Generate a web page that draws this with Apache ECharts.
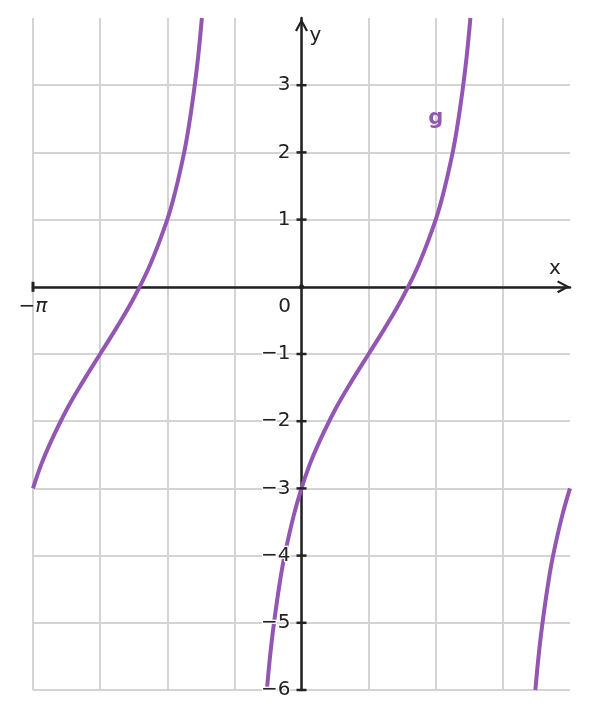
<!DOCTYPE html>
<html>
<head>
<meta charset="utf-8">
<script src="https://cdn.jsdelivr.net/npm/echarts@6/dist/echarts.min.js"></script>
<style>
  html, body { margin: 0; padding: 0; background: #fff; }
  #chart { width: 589px; height: 719px; }
</style>
</head>
<body>
<div id="chart"></div>
<script>
// x values are in units of pi
const leftX  = [-1, -0.97, -0.9375, -0.875, -0.8125, -0.75, -0.6875, -0.625, -0.5625, -0.5, -0.47, -0.4375, -0.42, -0.4, -0.385, -0.371];
const leftY  = [-3, -2.65, -2.34, -1.83, -1.40, -1, -0.60, -0.17, 0.34, 1, 1.42, 1.99, 2.38, 2.93, 3.42, 4.0];
const midX   = [-0.129, -0.115, -0.1, -0.08, -0.0625, -0.03, 0, 0.03, 0.0625, 0.125, 0.1875, 0.25, 0.3125, 0.375, 0.4375, 0.5, 0.53, 0.5625, 0.58, 0.6, 0.615, 0.629];
const midY   = [-6.0, -5.42, -4.93, -4.38, -3.99, -3.42, -3, -2.65, -2.34, -1.83, -1.40, -1, -0.60, -0.17, 0.34, 1, 1.42, 1.99, 2.38, 2.93, 3.42, 4.0];
const rightX = [0.871, 0.885, 0.9, 0.92, 0.9375, 0.97, 1];
const rightY = [-6, -5.42, -4.93, -4.38, -3.99, -3.42, -3];

const yTicks = [-6, -5, -4, -3, -2, -1, 1, 2, 3];
const curveName = 'g';
const curveLabelAt = [0.5, 2.5];

const ink = '#222222';
const purple = '#9356b3';
const font = 'DejaVu Sans';
const chevron = 'path://M0,12L6.5,0L13,12L11,13.2L6.5,4.6L2,13.2Z';

const W = 589, H = 719;
const gridBox = { left: 33, right: 19, top: 18, bottom: 29 };
const xMin = -1, xMax = 1, yMin = -6, yMax = 4;
const plotW = W - gridBox.left - gridBox.right;
const plotH = H - gridBox.top - gridBox.bottom;
// shift the axes so they cross at (0, 0), labels included
const yAxisShift = -plotW * (0 - xMin) / (xMax - xMin);
const xAxisShift = -plotH * (0 - yMin) / (yMax - yMin);

const pairs = (xs, ys) => xs.map((x, i) => [x, ys[i]]);

const curve = (data) => ({
  type: 'line',
  data: data,
  showSymbol: false,
  smooth: 0.4,
  lineStyle: { color: purple, width: 4 },
  silent: true,
  z: 3
});

const mark = (data, symbol, size) => ({
  type: 'scatter',
  data: data,
  symbol: symbol,
  symbolSize: size,
  itemStyle: { color: ink, opacity: 1 },
  silent: true,
  z: 4
});

// y tick marks carry their own labels so they sit above the curve
const yTickSeries = mark(yTicks.map(v => [0, v]), 'rect', [10, 2.5]);
yTickSeries.z = 5;
yTickSeries.label = {
  show: true,
  position: 'left',
  distance: 6,
  fontFamily: font,
  fontSize: 20,
  color: ink,
  textBorderColor: '#fff',
  textBorderWidth: 2.5,
  formatter: p => String(p.value[1]).replace('-', '−')
};

const chart = echarts.init(document.getElementById('chart'));
chart.setOption({
  animation: false,
  backgroundColor: '#fff',
  grid: Object.assign({ containLabel: false, outerBoundsMode: 'none' }, gridBox),
  xAxis: {
    type: 'value',
    min: xMin,
    max: xMax,
    interval: 0.25,
    position: 'bottom',
    offset: xAxisShift,
    name: 'x',
    nameLocation: 'end',
    nameGap: -21,
    nameTextStyle: { fontFamily: font, fontSize: 20, color: ink, verticalAlign: 'bottom', padding: [0, 0, 8, 0] },
    axisLine: {
      onZero: false,
      lineStyle: { color: ink, width: 2.5 },
      symbol: ['none', chevron],
      symbolSize: [13, 13],
      symbolOffset: [0, -6.5]
    },
    axisTick: { show: false },
    splitLine: { show: true, showMaxLine: false, lineStyle: { color: '#d4d4d4', width: 2 } },
    axisLabel: {
      showMinLabel: true,
      margin: 10,
      fontFamily: font,
      fontSize: 20,
      color: ink,
      formatter: function (v) {
        if (Math.abs(v + 1) < 1e-9) return '{m|−}{p|π}';
        if (Math.abs(v) < 1e-9) return '{z|0}';
        return '';
      },
      rich: {
        m: { fontFamily: font, fontSize: 20, color: ink },
        p: { fontFamily: font, fontSize: 20, color: ink, fontStyle: 'italic' },
        z: { fontFamily: font, fontSize: 20, color: ink, padding: [0, 34, 0, 0] }
      }
    }
  },
  yAxis: {
    type: 'value',
    min: yMin,
    max: yMax,
    interval: 1,
    position: 'left',
    offset: yAxisShift,
    name: 'y',
    nameLocation: 'end',
    nameGap: -28,
    nameTextStyle: { fontFamily: font, fontSize: 20, color: ink, padding: [0, 0, 0, 28] },
    axisLine: {
      onZero: false,
      lineStyle: { color: ink, width: 2.5 },
      symbol: ['none', chevron],
      symbolSize: [13, 14],
      symbolOffset: [0, -7]
    },
    axisTick: { show: false },
    splitLine: { show: true, showMaxLine: false, lineStyle: { color: '#d4d4d4', width: 2 } },
    axisLabel: { show: false }
  },
  series: [
    curve(pairs(leftX, leftY)),
    curve(pairs(midX, midY)),
    curve(pairs(rightX, rightY)),
    yTickSeries,
    mark([[xMin, 0]], 'rect', [3, 10]),
    mark([[0, 0]], 'circle', 5),
    {
      type: 'scatter',
      data: [curveLabelAt],
      symbolSize: 0,
      silent: true,
      itemStyle: { opacity: 1 },
      label: {
        show: true,
        position: 'inside',
        formatter: curveName,
        fontFamily: font,
        fontSize: 21,
        fontWeight: 'bold',
        color: purple,
        opacity: 1
      },
      z: 5
    }
  ]
});
</script>
</body>
</html>
